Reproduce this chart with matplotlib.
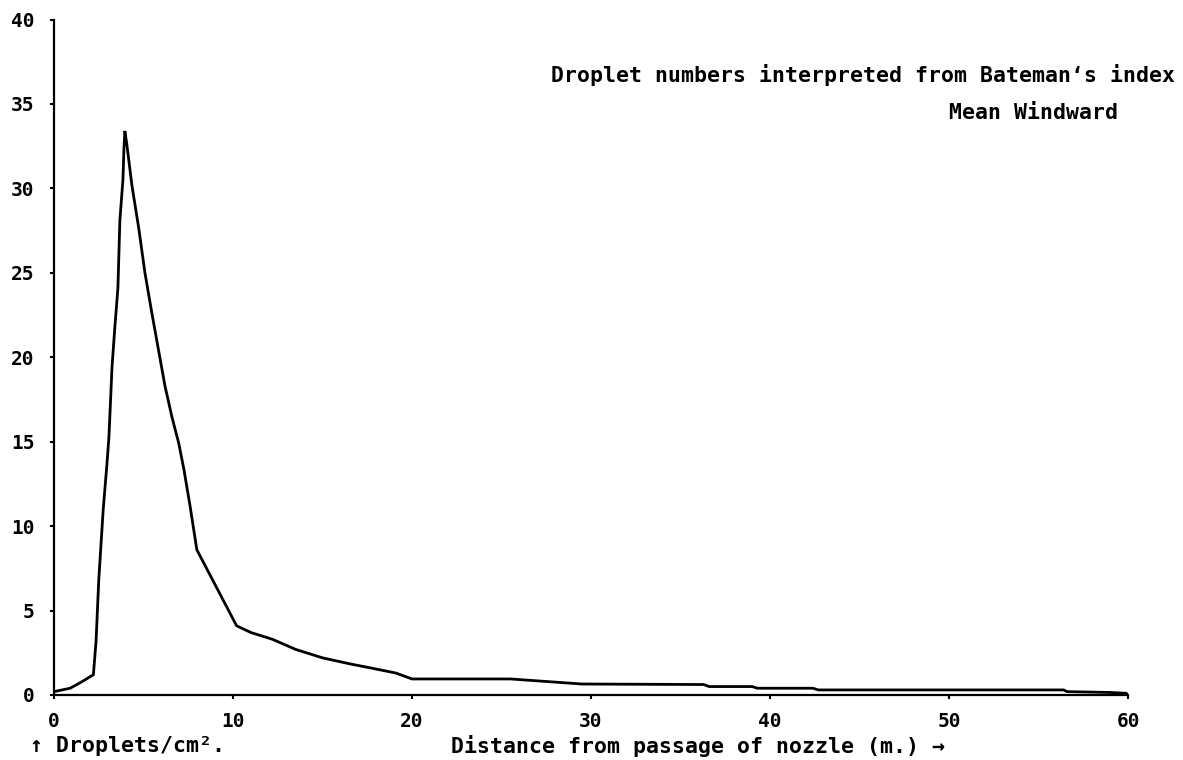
import numpy as np
import matplotlib
matplotlib.use("Agg")
import matplotlib.pyplot as plt

#<---------------- Droplet numbers vs distance (mean windward) ---------------->
distance = [0, 0.9, 1.5, 2.2, 2.35, 2.5, 2.75, 2.96, 3.07, 3.24, 3.40, 3.57, 3.68,
            3.85, 3.91, 3.96, 4.07, 4.35, 4.74, 5.08, 5.47, 5.86, 6.2, 6.58, 6.97,
            7.25, 7.6, 7.98, 10.2, 11.0, 12.2, 13.5, 15.0, 16.5, 17.7, 19.1, 20.0,
            25.5, 27.5, 29.5, 36.3, 36.6, 39.0, 39.3, 42.4, 42.7, 56.4, 56.6,
            59.0, 59.9, 60.0]
droplets = [0.2, 0.4, 0.75, 1.2, 3.2, 6.8, 11.0, 13.7, 15.3, 19.4, 21.8, 24.1, 28.1,
            30.5, 32.4, 33.4, 32.6, 30.2, 27.6, 25.0, 22.6, 20.3, 18.3, 16.5, 14.9,
            13.4, 11.2, 8.6, 4.1, 3.7, 3.3, 2.7, 2.2, 1.85, 1.6, 1.3, 0.95,
            0.95, 0.8, 0.65, 0.62, 0.5, 0.5, 0.4, 0.4, 0.3, 0.3, 0.2,
            0.15, 0.1, 0.0]

x_ticks = [0, 10, 20, 30, 40, 50, 60]
y_ticks = [0, 5, 10, 15, 20, 25, 30, 35, 40]

plt.rcParams["font.family"] = ["DejaVu Sans Mono", "DejaVu Sans"]
plt.rcParams["font.weight"] = "bold"

fig = plt.figure(figsize=(11.83, 7.6), dpi=100)
ax = fig.add_axes([54 / 1183, 65 / 760, 1074 / 1183, 675.5 / 760])

ax.plot(distance, droplets, color="black", lw=2.0, solid_joinstyle="miter")

#<---------------- Ejes ---------------->
ax.set_xlim(0, 60)
ax.set_ylim(0, 40)
ax.spines["top"].set_visible(False)
ax.spines["right"].set_visible(False)
ax.spines["left"].set_linewidth(1.6)
ax.spines["bottom"].set_linewidth(1.6)
ax.set_xticks(x_ticks)
ax.set_yticks(y_ticks)
ax.tick_params(axis="y", direction="out", length=3, width=1.5, pad=11, labelsize=14)
ax.tick_params(axis="x", direction="out", length=3, width=1.5, pad=9, labelsize=14)

#<---------------- Textos ---------------->
fs = 15.5
fig.text(1175 / 1183, 1 - 75 / 760, "Droplet numbers interpreted from Bateman\u2018s index",
         ha="right", va="center", fontsize=fs, fontweight="bold")
fig.text(1118 / 1183, 1 - 113 / 760, "Mean Windward",
         ha="right", va="center", fontsize=fs, fontweight="bold")
fig.text(30 / 1183, 1 - 746 / 760, "\u2191 Droplets/cm\u00b2.",
         ha="left", va="center", fontsize=fs, fontweight="bold")
fig.text(945 / 1183, 1 - 746 / 760, "Distance from passage of nozzle (m.) \u2192",
         ha="right", va="center", fontsize=fs, fontweight="bold")

fig.savefig("out.png", dpi=100)
